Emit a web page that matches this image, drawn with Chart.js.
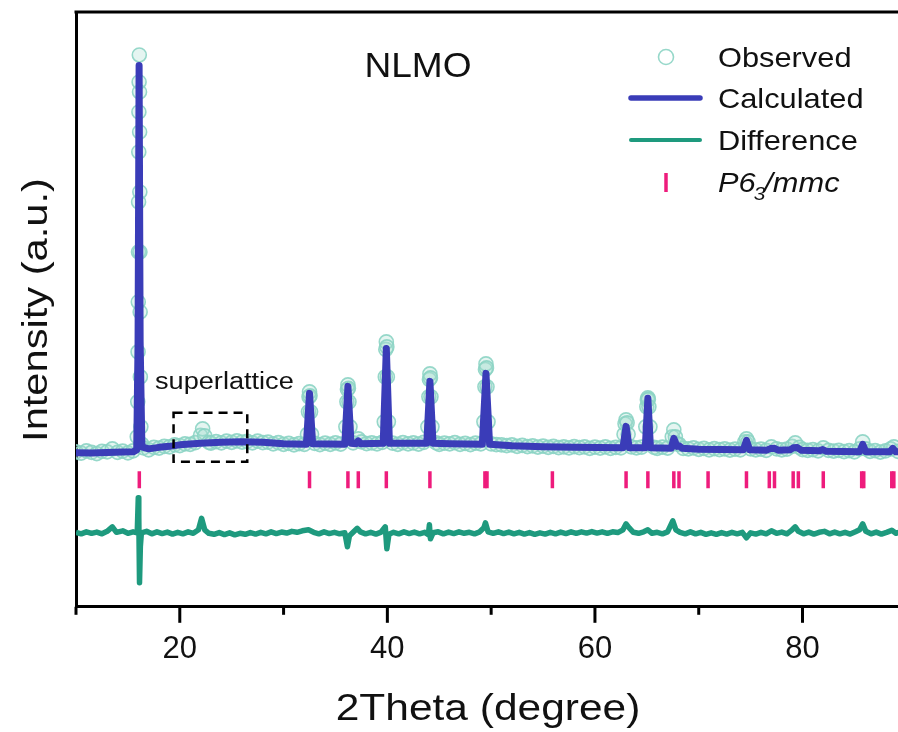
<!DOCTYPE html>
<html>
<head>
<meta charset="utf-8">
<script src="https://cdn.jsdelivr.net/npm/chart.js@4.4.1/dist/chart.umd.min.js"></script>
<style>
  html, body { margin: 0; padding: 0; background: #fff; }
</style>
</head>
<body>
<canvas id="xrdChart" width="898" height="732"></canvas>
<script>
// Rietveld refinement of NLMO (arbitrary intensity units)
const calcTheta = [10.0, 11.5, 13.0, 14.5, 15.5, 15.85, 15.98, 16.08, 16.18, 16.35, 17.0, 18.0, 19.0, 20.0, 22.0, 24.0, 26.0, 28.0, 30.0,
  32.2, 32.5, 32.8, 35.9, 36.2, 36.5, 36.95, 37.2, 37.45, 39.6, 39.9, 40.2, 43.8, 44.1, 44.4, 46.0, 49.15, 49.5, 49.85,
  52.0, 55.0, 58.0, 62.7, 63.0, 63.3, 64.85, 65.1, 65.35, 67.35, 67.6, 67.9, 68.1, 68.4, 70.0, 74.3, 74.6, 74.9,
  76.5, 76.9, 77.3, 77.7, 78.8, 79.1, 79.5, 79.9, 81.6, 81.95, 82.3, 85.5, 85.8, 86.1, 88.4, 88.7, 89.0, 89.3];
const calcIntensity = [980, 975, 985, 995, 1000, 1040, 3200, 8730, 3200, 1100, 1060, 1090, 1110, 1140, 1170, 1190, 1200, 1190, 1160,
  1150, 2170, 1160, 1150, 2310, 1170, 1160, 1220, 1160, 1170, 3070, 1170, 1170, 2410, 1170, 1160, 1150, 2570, 1150,
  1120, 1100, 1090, 1080, 1510, 1080, 1080, 2070, 1080, 1070, 1270, 1110, 1120, 1070, 1050, 1040, 1230, 1040,
  1030, 1065, 1070, 1030, 1040, 1080, 1085, 1030, 1020, 1045, 1010, 1000, 1150, 1000, 1000, 1070, 1000, 1000];

const obsTheta = [10.0, 10.5, 11.0, 11.5, 12.0, 12.5, 13.0, 13.5, 14.0, 14.5, 15.0, 15.5,
  15.9, 15.95, 15.98, 16.0, 16.02, 16.03, 16.05, 16.06, 16.08, 16.1, 16.12, 16.13, 16.15, 16.16, 16.18, 16.2, 16.25, 16.35,
  16.5, 17.0, 17.5, 18.0, 18.5, 19.0, 19.5, 20.0, 20.5, 21.0, 21.5, 22.0, 22.2, 22.4, 22.8, 23.0, 23.5, 24.0, 24.5, 25.0,
  25.5, 26.0, 26.5, 27.0, 27.5, 28.0, 28.5, 29.0, 29.5, 30.0, 30.5, 31.0, 31.5, 32.0,
  32.3, 32.4, 32.45, 32.5, 32.55, 32.6, 32.7, 33.0, 33.5, 34.0, 34.5, 35.0, 35.5,
  36.0, 36.1, 36.15, 36.2, 36.25, 36.3, 36.4, 36.7, 37.2, 37.5, 38.0, 38.5, 39.0, 39.5,
  39.7, 39.8, 39.85, 39.9, 39.95, 40.0, 40.1, 40.5, 41.0, 41.5, 42.0, 42.5, 43.0, 43.5,
  43.9, 44.0, 44.05, 44.1, 44.15, 44.2, 44.3, 44.7, 45.0, 45.5, 46.0, 46.5, 47.0, 47.5, 48.0, 48.5, 49.0,
  49.3, 49.4, 49.45, 49.5, 49.55, 49.6, 49.7, 50.0, 50.5, 51.0, 51.5, 52.0, 52.5, 53.0, 53.5, 54.0, 54.5, 55.0,
  55.5, 56.0, 56.5, 57.0, 57.5, 58.0, 58.5, 59.0, 59.5, 60.0, 60.5, 61.0, 61.5, 62.0, 62.5,
  62.8, 62.9, 63.0, 63.1, 63.2, 63.5, 64.0, 64.5, 64.9, 65.0, 65.05, 65.1, 65.15, 65.2, 65.3, 65.7, 66.0, 66.5, 67.0,
  67.45, 67.6, 67.75, 67.9, 68.1, 68.5, 69.0, 69.5, 70.0, 70.5, 71.0, 71.5, 72.0, 72.5, 73.0, 73.5, 74.0,
  74.45, 74.6, 74.75, 75.0, 75.5, 76.0, 76.5, 77.0, 77.5, 78.0, 78.5, 79.0, 79.3, 79.7, 80.0, 80.5, 81.0, 81.5,
  82.0, 82.5, 83.0, 83.5, 84.0, 84.5, 85.0, 85.5, 85.8, 86.1, 86.5, 87.0, 87.5, 88.0, 88.5, 88.8, 89.2];
const obsIntensity = [1000, 975, 1020, 990, 965, 1010, 1000, 1060, 990, 1015, 980, 1020,
  1300, 2000, 3000, 4000, 5000, 6000, 7000, 7800, 8400, 8940, 8200, 7400, 6200, 5000, 3800, 2500, 1500, 1150,
  1080, 1040, 1090, 1075, 1110, 1100, 1140, 1125, 1160, 1150, 1185, 1330, 1460, 1320, 1190, 1175, 1205, 1180, 1215, 1190,
  1220, 1195, 1210, 1180, 1215, 1185, 1195, 1160, 1185, 1150, 1170, 1140, 1165, 1150,
  1350, 1800, 2100, 2200, 2120, 1800, 1350, 1170, 1145, 1175, 1150, 1180, 1155,
  1500, 2000, 2250, 2340, 2270, 2000, 1500, 1180, 1260, 1200, 1165, 1180, 1160, 1190,
  1600, 2500, 3050, 3200, 3100, 2500, 1600, 1175, 1150, 1185, 1160, 1180, 1155, 1190,
  1500, 2100, 2450, 2560, 2480, 2100, 1500, 1180, 1150, 1175, 1160, 1185, 1150, 1170, 1145, 1175, 1160,
  1600, 2300, 2650, 2760, 2680, 2300, 1600, 1160, 1145, 1140, 1125, 1140, 1110, 1130, 1105, 1120, 1095, 1115,
  1090, 1110, 1085, 1100, 1080, 1105, 1085, 1100, 1070, 1095, 1075, 1100, 1070, 1090, 1080,
  1350, 1560, 1640, 1580, 1350, 1100, 1080, 1095, 1500, 1900, 2040, 2080, 2050, 1900, 1500, 1090, 1070, 1095, 1075,
  1300, 1440, 1300, 1160, 1150, 1070, 1060, 1080, 1050, 1070, 1040, 1065, 1045, 1060, 1035, 1055, 1040,
  1200, 1260, 1200, 1060, 1040, 1055, 1030, 1100, 1060, 1040, 1055, 1110, 1180, 1090, 1045, 1030, 1045, 1020,
  1080, 1030, 1015, 1030, 1005, 1025, 1000, 1060, 1200, 1060, 1010, 1025, 995, 1020, 1060, 1100, 1010];

const diffTheta = [10.0, 10.5, 11.0, 11.5, 12.0, 12.5, 13.0, 13.5, 13.9, 14.5, 15.0, 15.5, 15.9, 16.0, 16.05, 16.12, 16.2, 16.3,
  16.8, 17.3, 17.8, 18.3, 18.8, 19.3, 19.8, 20.3, 20.8, 21.3, 21.8, 22.1, 22.4, 22.8, 23.3, 23.8, 24.3, 24.8, 25.3,
  25.8, 26.3, 26.8, 27.3, 27.8, 28.3, 28.8, 29.3, 29.8, 30.3, 30.8, 31.3, 31.8, 32.4, 32.9, 33.4, 33.9, 34.4, 34.9,
  35.4, 35.9, 36.15, 36.35, 36.7, 37.1, 37.4, 37.9, 38.4, 38.9, 39.4, 39.8, 39.95, 40.15, 40.6, 41.1, 41.6, 42.1,
  42.6, 43.1, 43.6, 43.95, 44.05, 44.15, 44.4, 44.9, 45.4, 45.9, 46.4, 46.9, 47.4, 47.9, 48.4, 48.9, 49.3, 49.45,
  49.7, 50.2, 50.7, 51.2, 51.7, 52.2, 52.7, 53.2, 53.7, 54.2, 54.7, 55.2, 55.7, 56.2, 56.7, 57.2, 57.7, 58.2, 58.7,
  59.2, 59.7, 60.2, 60.7, 61.2, 61.7, 62.2, 62.7, 63.0, 63.3, 63.7, 64.2, 64.7, 65.1, 65.5, 66.0, 66.5, 67.0, 67.5,
  67.8, 68.2, 68.7, 69.2, 69.7, 70.2, 70.7, 71.2, 71.7, 72.2, 72.7, 73.2, 73.7, 74.2, 74.6, 75.0, 75.5, 76.0, 76.5,
  77.0, 77.5, 78.0, 78.5, 79.0, 79.3, 79.6, 80.1, 80.6, 81.1, 81.6, 82.1, 82.6, 83.1, 83.6, 84.1, 84.6, 85.1, 85.5,
  85.8, 86.1, 86.6, 87.1, 87.6, 88.1, 88.6, 89.0, 89.3];
const diffIntensity = [-610, -640, -600, -630, -605, -640, -590, -500, -610, -580, -630, -600, -620, 80, -300, -1620, -900, -620,
  -590, -640, -600, -635, -605, -645, -610, -640, -600, -630, -560, -330, -560, -630, -650, -615, -655, -620, -660,
  -630, -650, -615, -645, -610, -640, -600, -635, -605, -625, -590, -610, -580, -560, -610, -640, -600, -635, -610,
  -640, -620, -900, -680, -610, -530, -600, -640, -610, -645, -605, -500, -940, -650, -610, -640, -600, -635,
  -605, -640, -610, -660, -460, -740, -620, -600, -640, -605, -635, -600, -630, -610, -640, -600, -520, -420,
  -600, -630, -600, -635, -605, -640, -610, -645, -615, -650, -620, -645, -610, -640, -605, -635, -600, -630, -600,
  -625, -595, -625, -600, -630, -600, -615, -560, -440, -520, -610, -630, -600, -560, -630, -610, -640, -600, -380,
  -560, -610, -640, -600, -640, -610, -650, -620, -650, -615, -645, -610, -640, -610, -720, -620, -645, -610, -640,
  -580, -630, -605, -640, -560, -500, -590, -640, -605, -645, -610, -590, -640, -605, -640, -610, -645, -600, -560,
  -440, -590, -640, -605, -645, -610, -570, -630, -610];

// Bragg reflection positions of the P6_3/mmc phase
const braggPositions = [16.1, 32.5, 36.2, 37.2, 39.9, 44.1, 49.4, 49.6, 55.9, 63.0, 65.1, 67.6, 68.1, 70.9,
  74.6, 76.8, 77.3, 79.1, 79.6, 82.0, 85.7, 85.9, 88.6, 88.8];
const braggLevel = 440;

const xTickLabels = [20, 40, 60, 80];
const legendLabels = ["Observed", "Calculated", "Difference"];

const BLUE = "#3a3cb8";
const TEAL = "#1e9a7e";
const OBS = "rgba(140, 212, 196, 0.9)";
const PINK = "#ee1c7c";
const FONT = '"Liberation Sans", Arial, sans-serif';

function toPoints(xs, ys) {
    return xs.map((x, i) => ({ x: x, y: ys[i] }));
}

function drawText(ctx, text, px, py, size, stretch, align, angle, italic) {
    ctx.save();
    ctx.translate(px, py);
    if (angle) ctx.rotate(angle);
    ctx.scale(stretch, 1);
    ctx.font = (italic ? "italic " : "") + size + "px " + FONT;
    ctx.textAlign = align;
    ctx.textBaseline = "alphabetic";
    ctx.fillStyle = "#111";
    ctx.fillText(text, 0, 0);
    const w = ctx.measureText(text).width * stretch;
    ctx.restore();
    return w;
}

const overlayPlugin = {
    id: "overlay",
    afterDraw(chart) {
        const { ctx, chartArea, scales } = chart;
        const x = scales.x, y = scales.y;
        ctx.save();

        // top frame line
        ctx.strokeStyle = "#000";
        ctx.lineWidth = 3;
        ctx.beginPath();
        ctx.moveTo(chartArea.left - 1.5, chartArea.top);
        ctx.lineTo(chartArea.right, chartArea.top);
        ctx.stroke();

        // outward tick marks, long on labelled ticks
        x.ticks.forEach(t => {
            const px = x.getPixelForValue(t.value);
            const len = xTickLabels.includes(t.value) ? 16 : 8;
            ctx.beginPath();
            ctx.moveTo(px, chartArea.bottom);
            ctx.lineTo(px, chartArea.bottom + len);
            ctx.stroke();
        });

        // dashed box around the superlattice reflection
        ctx.lineWidth = 2.5;
        ctx.setLineDash([9, 6]);
        const bx0 = x.getPixelForValue(19.4), bx1 = x.getPixelForValue(26.5);
        const by0 = y.getPixelForValue(1780), by1 = y.getPixelForValue(800);
        ctx.strokeRect(bx0, by0, bx1 - bx0, by1 - by0);
        ctx.setLineDash([]);

        // axis titles and annotations
        drawText(ctx, "2Theta (degree)", 488, 720, 36, 1.18, "center");
        drawText(ctx, "Intensity (a.u.)", 47, 310, 35, 1.19, "center", -Math.PI / 2);
        drawText(ctx, "NLMO", 418, 77, 35, 1.06, "center");
        drawText(ctx, "superlattice", 155, 389, 23, 1.18, "left");

        // legend
        const lx = 718;
        ctx.strokeStyle = OBS;
        ctx.lineWidth = 1.6;
        ctx.beginPath();
        ctx.arc(666, 57, 7.5, 0, Math.PI * 2);
        ctx.stroke();
        drawText(ctx, legendLabels[0], lx, 67, 28, 1.1, "left");

        ctx.lineCap = "round";
        ctx.strokeStyle = BLUE;
        ctx.lineWidth = 5.5;
        ctx.beginPath();
        ctx.moveTo(631, 98);
        ctx.lineTo(700, 98);
        ctx.stroke();
        drawText(ctx, legendLabels[1], lx, 108, 28, 1.1, "left");

        ctx.strokeStyle = TEAL;
        ctx.lineWidth = 4;
        ctx.beginPath();
        ctx.moveTo(631, 140);
        ctx.lineTo(700, 140);
        ctx.stroke();
        drawText(ctx, legendLabels[2], lx, 150, 28, 1.1, "left");

        ctx.lineCap = "butt";
        ctx.strokeStyle = PINK;
        ctx.lineWidth = 3.5;
        ctx.beginPath();
        ctx.moveTo(666, 173);
        ctx.lineTo(666, 192);
        ctx.stroke();
        let cx = lx;
        cx += drawText(ctx, "P6", cx, 192, 28, 1.1, "left", 0, true);
        cx += drawText(ctx, "3", cx - 2, 200, 19, 1.1, "left", 0, true) - 3;
        drawText(ctx, "/mmc", cx, 192, 28, 1.1, "left", 0, true);

        ctx.restore();
    }
};

new Chart(document.getElementById("xrdChart"), {
    type: "scatter",
    data: {
        datasets: [
            {
                label: "P6_3/mmc",
                data: braggPositions.map(p => ({ x: p, y: braggLevel })),
                pointStyle: "line",
                pointRotation: 90,
                pointRadius: 8.5,
                pointBorderWidth: 3.5,
                pointBorderColor: PINK,
                order: 0
            },
            {
                label: "Calculated",
                data: toPoints(calcTheta, calcIntensity),
                showLine: true,
                borderColor: BLUE,
                borderWidth: 7,
                borderJoinStyle: "round",
                borderCapStyle: "round",
                pointRadius: 0,
                tension: 0,
                order: 1
            },
            {
                label: "Observed",
                data: toPoints(obsTheta, obsIntensity),
                pointStyle: "circle",
                pointRadius: 7,
                pointBorderWidth: 1.6,
                pointBorderColor: OBS,
                pointBackgroundColor: "rgba(170, 222, 210, 0.3)",
                order: 2
            },
            {
                label: "Difference",
                data: toPoints(diffTheta, diffIntensity),
                showLine: true,
                borderColor: TEAL,
                borderWidth: 5.5,
                borderJoinStyle: "round",
                pointRadius: 0,
                tension: 0,
                order: 3
            }
        ]
    },
    options: {
        responsive: false,
        animation: false,
        layout: { autoPadding: false, padding: { left: 76, top: 12, right: 0, bottom: 40 } },
        plugins: {
            legend: { display: false },
            tooltip: { enabled: false }
        },
        scales: {
            x: {
                type: "linear",
                min: 10,
                max: 89.2,
                grid: { display: false, drawTicks: false },
                border: { display: true, color: "#000", width: 3 },
                ticks: {
                    stepSize: 10,
                    includeBounds: false,
                    padding: 24,
                    color: "#111",
                    font: { family: FONT, size: 31 },
                    maxRotation: 0,
                    autoSkip: false,
                    callback: function (value) {
                        return xTickLabels.includes(value) ? String(value) : "";
                    }
                }
            },
            y: {
                min: -2100,
                max: 9800,
                grid: { display: false, drawTicks: false },
                border: { display: true, color: "#000", width: 3 },
                ticks: { display: false }
            }
        }
    },
    plugins: [overlayPlugin]
});
</script>
</body>
</html>
